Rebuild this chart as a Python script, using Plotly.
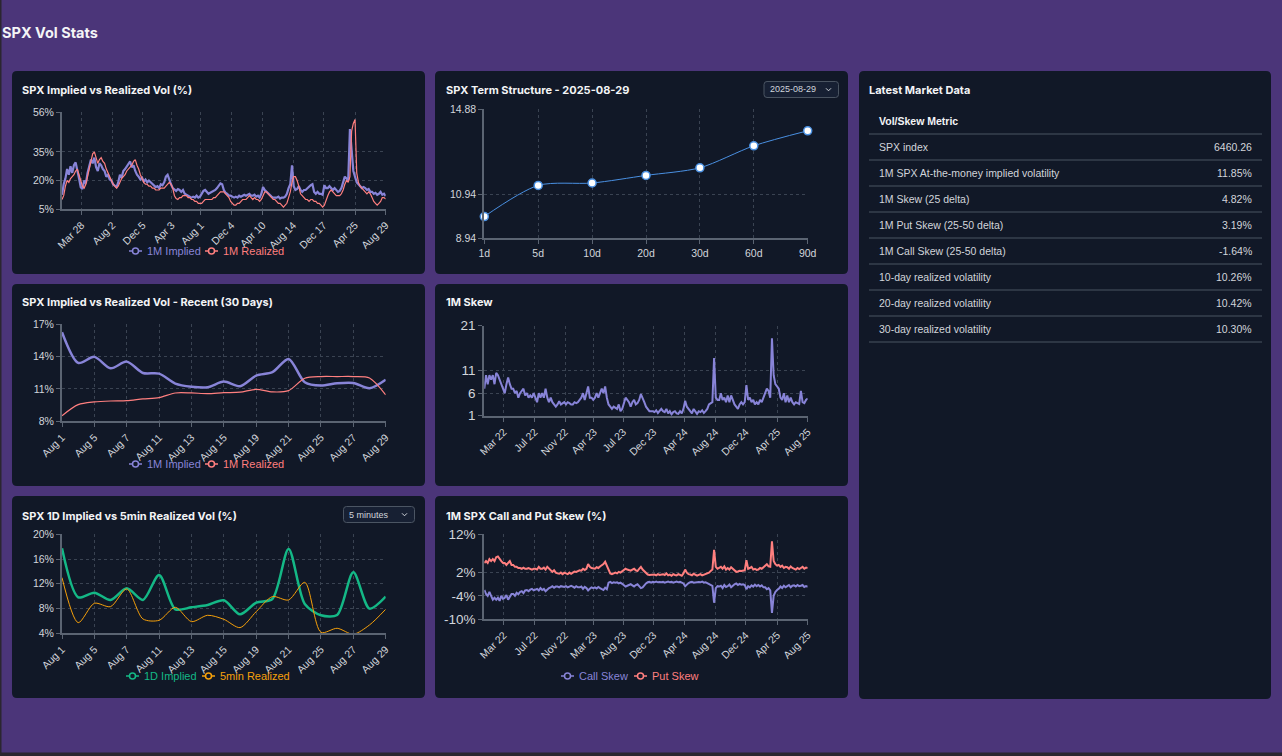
import plotly.graph_objects as go
import pandas as pd

W, H = 1282, 756

# ------------------------------------------------------------------ data
END_DATE = "2025-08-29"

# weekly (Friday) samples, Jan 2022 -> Aug 2025
implied_1m = (
    [12.5, 18, 21, 26] + [23, 27.5, 24, 28] + [29.5, 26, 21, 16.5] + [15.5, 20, 18.5, 24, 28]
    + [31, 29, 32, 27] + [25, 29, 28, 26] + [25, 22, 23, 20.5, 20] + [18, 17, 16.5, 19]
    + [23, 21.5, 25, 26, 27.5] + [29, 30, 27, 28] + [25, 23, 22, 20.5] + [21.5, 19.5, 20.5, 19, 20]
    + [19, 18, 17, 16.5] + [17, 16, 18, 17.5] + [19, 22, 23, 20, 18] + [16, 15, 14.5, 15.5]
    + [15, 14, 15, 13] + [12.5, 12, 11.5, 11, 11.5] + [11, 12, 11, 11.5] + [13, 14.5, 15, 14]
    + [13, 13.5, 14, 14.5, 15] + [16, 17.5, 18.5, 18] + [15, 13.5, 13, 12] + [12, 11.5, 11, 11.5, 11]
    + [12, 11.5, 12, 12.5] + [12, 12.5, 13, 12] + [12, 12.5, 11.5, 12, 11] + [13, 16.5, 15, 14]
    + [13, 12, 11.5, 11, 11] + [11, 11.5, 10.5, 11] + [11, 11.5, 13, 16] + [18, 28, 17, 15, 15.5]
    + [17, 15, 14, 15] + [15, 16, 17, 17.5] + [18, 14, 13, 14, 13] + [13, 12.5, 17.5, 16]
    + [16, 17, 16, 15, 16] + [15, 14, 14.5, 16] + [19, 22, 21, 20] + [47, 33, 25, 22]
    + [19, 18, 17, 16, 16.5] + [16, 15, 15.5, 14] + [14, 13, 13.5, 12.5] + [13, 14, 12.5, 13, 11.85]
)
realized_1m = (
    [10, 12, 17, 20] + [19, 21, 22, 23] + [25, 26, 23, 20] + [17, 16, 18, 22, 26]
    + [30, 34, 35, 32] + [29, 31, 32, 30] + [29, 26, 24, 22, 20] + [18, 17, 16, 17]
    + [19, 21, 22, 23, 25] + [26, 27, 28, 30] + [31, 28, 26, 23] + [21, 19, 18, 18, 17]
    + [17, 16, 16, 15] + [15, 15, 16, 16] + [16, 17, 18, 19, 18] + [16, 12, 10.5, 10]
    + [11, 11, 12, 12] + [12, 11, 11, 10, 10] + [9, 9, 8, 8] + [8, 9, 10, 10]
    + [10, 10, 10, 11, 11] + [12, 13, 14, 14] + [14, 13, 12, 11] + [9, 8, 7, 7, 8]
    + [8, 9, 10, 10] + [10, 11, 12, 11] + [10, 11, 10, 10, 9] + [10, 12, 14, 14]
    + [13, 12, 11, 10, 10] + [9, 8, 8, 7] + [6, 7, 8, 11] + [14, 19, 22, 22, 20]
    + [17, 13, 12, 11] + [10, 10, 9, 10] + [10, 9, 9, 8, 8] + [7, 6, 7, 10]
    + [12, 14, 15, 14, 13] + [12, 12, 12, 13] + [15, 18, 20, 19] + [22, 46, 50, 52]
    + [24, 19, 17, 16, 15] + [14, 13, 14, 13] + [11, 9, 8, 7] + [8, 9, 11, 11, 10.3]
)
skew_1m = (
    [7, 10, 8, 10] + [9, 10, 8, 10.5] + [10, 9, 8, 7] + [6, 8, 9.5, 8, 7]
    + [7, 6, 6.5, 5] + [6, 6.5, 7, 5.5] + [6, 5, 5.5, 5, 6] + [5, 4, 6, 5]
    + [6, 5, 7, 5, 4] + [5, 4, 3.5, 3] + [3.5, 4.2, 3.5, 3.8] + [4, 3.5, 4, 3.8, 3.5]
    + [3.5, 4, 3.8, 4] + [4.5, 5, 6, 4.5] + [6, 7.5, 5, 5, 4.5] + [5, 6, 5, 6]
    + [7, 6, 7.5, 5] + [3.5, 3, 2.5, 3, 2.8] + [2.5, 3.5, 2, 2.5] + [4, 5, 4.5, 4]
    + [3, 4, 4.5, 3.5, 3.8] + [4.5, 5.8, 5, 4] + [3, 2.5, 2, 2] + [2, 1.8, 2.2, 1.6, 2]
    + [2.5, 2, 1.8, 2.5] + [1.5, 2, 1.3, 1.8] + [2, 1.5, 1.4, 2, 1.5] + [2.5, 4.3, 3, 2.5]
    + [2, 1.5, 2.5, 1.8, 1.4] + [2, 1.8, 2.2, 1.6] + [2, 2.5, 3.5, 3.8] + [4, 13.8, 5, 4.5, 4.5]
    + [6, 4.5, 5, 4] + [5.5, 4, 5.5, 4.5] + [3.5, 3, 2.5, 3.5, 4] + [3.5, 4, 7.8, 4.5]
    + [5, 4, 4.5, 3.5, 4] + [3.5, 4.5, 4, 5] + [6, 7, 6.5, 5] + [18.2, 10, 8, 7.5]
    + [7, 5, 4.5, 6, 4] + [5.5, 4, 5, 4] + [3.5, 4, 3.8, 3.6] + [6.5, 4, 3.8, 4.5, 4.82]
)
put_skew = (
    [4.5, 5, 4.5, 5.5] + [5, 5.5, 5, 6] + [6.2, 5.5, 5, 4.5] + [4.5, 4, 4.5, 5, 4]
    + [4, 3.5, 3.5, 3.2] + [3.2, 3, 3.3, 3] + [3, 3.2, 3, 2.8, 3] + [3, 2.8, 3.5, 3]
    + [3, 3.3, 2.8, 3.5, 3] + [2.5, 2.2, 2.6, 2] + [1.8, 1.7, 2, 1.6] + [2, 1.8, 1.6, 2, 1.7]
    + [2, 2.3, 2.2, 2.5] + [2.6, 2.5, 3, 2.7] + [3, 4.2, 3.5, 3.2, 3] + [3, 3.4, 3.2, 3.6]
    + [3.8, 4.2, 4.8, 3.8] + [2.5, 1.8, 1.6, 1.8, 2] + [1.8, 2.2, 2, 2.3] + [2.5, 3, 2.8, 2.6]
    + [2.5, 2.8, 3, 2.6, 2.4] + [3, 3.5, 2.8, 2.4] + [1.8, 1.5, 1.4, 1.5] + [1.4, 1.5, 1.3, 1.6, 1.4]
    + [1.5, 1.6, 1.4, 1.8] + [1.3, 1.5, 1.2, 1.6] + [1.4, 1.3, 1.6, 1.4, 1.2] + [1.8, 2.8, 2, 1.6]
    + [1.5, 1.3, 1.7, 1.4, 1.2] + [1.4, 1.6, 1.3, 1.5] + [1.5, 1.8, 2, 2.4] + [2.8, 7.9, 3.5, 3, 3.2]
    + [3.5, 3, 3.6, 2.8] + [3.2, 2.8, 3.4, 3] + [2.5, 2.2, 2.3, 2.5, 2.4] + [2.5, 2.6, 5.2, 3]
    + [3.2, 3.5, 2.8, 3, 2.7] + [2.8, 3.2, 3, 3.4] + [3.8, 4.2, 3.6, 3.5] + [10.1, 5, 4.2, 3.8]
    + [4, 3.5, 3.8, 3.2, 3.5] + [3.4, 3, 3.6, 3.2] + [3, 2.8, 3.2, 2.9] + [3.2, 3.5, 3, 3.3, 3.19]
)
call_skew = (
    [-2.5, -3.5, -4, -3] + [-4, -5, -4.5, -5] + [-4.5, -5.3, -4, -4.8] + [-4.5, -3.8, -5, -4.2, -3.5]
    + [-3.5, -4, -3.2, -3.6] + [-3, -2.8, -3.3, -2.6] + [-2.5, -2.8, -2.4, -2.2, -2.6] + [-2.4, -2.2, -2.6, -2]
    + [-2.5, -2.2, -2.8, -2.3, -2] + [-1.8, -1.5, -1.9, -1.6] + [-1.6, -1.8, -1.5, -1.7] + [-1.7, -1.5, -1.8, -1.6, -1.4]
    + [-1.6, -1.9, -1.5, -1.8] + [-1.8, -1.6, -2.2, -1.7] + [-2, -2.6, -2.2, -1.8, -2] + [-1.8, -2.1, -1.7, -2]
    + [-2.2, -2.5, -1.9, -2.3] + [-0.6, -0.4, -0.7, -0.5, -0.6] + [-0.5, -0.8, -0.6, -0.9] + [-1.2, -1.6, -1.4, -1.1]
    + [-1, -1.3, -1.6, -1.2, -1] + [-1.5, -2, -1.8, -1.2] + [-0.8, -0.5, -0.4, -0.6] + [-0.4, -0.5, -0.3, -0.5, -0.4]
    + [-0.5, -0.4, -0.6, -0.4] + [-0.3, -0.5, -0.4, -0.6] + [-0.4, -0.3, -0.5, -0.4, -0.6] + [-0.8, -1.5, -1, -0.7]
    + [-0.5, -0.4, -0.6, -0.5, -0.4] + [-0.4, -0.5, -0.3, -0.6] + [-0.5, -0.7, -0.9, -1.2] + [-1.4, -5.8, -2, -1.5, -1.6]
    + [-1.4, -2, -1.2, -1.7] + [-1.5, -1.1, -1.8, -1.3] + [-1, -0.8, -1.2, -0.9, -1.1] + [-1, -1.2, -2.3, -1.5]
    + [-1.8, -1.3, -1.6, -1.1, -1.5] + [-1.2, -1.6, -1.3, -1.8] + [-1.8, -2.3, -2, -2.6] + [-8.4, -4, -3, -2.5]
    + [-2.2, -1.6, -2, -1.4, -1.8] + [-1.5, -1.2, -1.8, -1.4] + [-1.3, -1.6, -1.2, -1.5] + [-1.4, -1.2, -1.7, -1.5, -1.64]
)

long_tick_dates = ["2022-03-28", "2022-08-02", "2022-12-05", "2023-04-03", "2023-08-01", "2023-12-04",
                   "2024-04-10", "2024-08-14", "2024-12-17", "2025-04-25", "2025-08-29"]
vol_tick_text = ["Mar 28", "Aug 2", "Dec 5", "Apr 3", "Aug 1", "Dec 4", "Apr 10", "Aug 14", "Dec 17", "Apr 25", "Aug 29"]
skew_tick_text = ["Mar 22", "Jul 22", "Nov 22", "Apr 23", "Jul 23", "Dec 23", "Apr 24", "Aug 24", "Dec 24", "Apr 25", "Aug 25"]
cp_tick_text = ["Mar 22", "Jul 22", "Nov 22", "Mar 23", "Aug 23", "Dec 23", "Apr 24", "Aug 24", "Dec 24", "Apr 25", "Aug 25"]

vol_yticks = [5, 20, 35, 56]
term_yticks = [8.94, 10.94, 14.88]
recent_yticks = [8, 11, 14, 17]
skew_yticks = [1, 6, 11, 21]
intraday_yticks = [4, 8, 12, 16, 20]
cp_yticks = [-10, -4, 2, 12]

term_labels = ["1d", "5d", "10d", "20d", "30d", "60d", "90d"]
term_values = [9.94, 11.37, 11.48, 11.83, 12.18, 13.19, 13.88]

recent_days = ["Aug 1", "Aug 4", "Aug 5", "Aug 6", "Aug 7", "Aug 8", "Aug 11", "Aug 12", "Aug 13", "Aug 14",
               "Aug 15", "Aug 18", "Aug 19", "Aug 20", "Aug 21", "Aug 22", "Aug 25", "Aug 26", "Aug 27",
               "Aug 28", "Aug 29"]
recent_implied = [16.24, 13.4, 13.96, 12.9, 13.52, 12.47, 12.41, 11.49, 11.2, 11.15, 11.67, 11.24,
                  12.23, 12.54, 13.77, 11.61, 11.3, 11.52, 11.55, 11.06, 11.85]
recent_realized = [8.52, 9.54, 9.79, 9.88, 9.91, 10.07, 10.19, 10.62, 10.62, 10.56, 10.65, 10.69,
                   10.96, 10.72, 10.84, 11.98, 12.14, 12.14, 12.14, 12.01, 10.45]
implied_1d = [17.74, 9.82, 10.57, 9.39, 11.27, 9.39, 13.43, 7.88, 8.2, 8.58, 9.33, 7.07, 8.96, 9.55,
              17.63, 8.74, 6.91, 6.96, 13.86, 7.99, 9.93]
realized_5min = [13.0, 5.72, 8.85, 8.31, 11.17, 6.32, 6.1, 8.2, 5.89, 6.91, 6.26, 4.92, 7.5, 9.93,
                 9.39, 12.24, 4.16, 4.81, 3.85, 5.35, 7.88]

table_metrics = ["SPX index", "1M SPX At-the-money implied volatility", "1M Skew (25 delta)",
                 "1M Put Skew (25-50 delta)", "1M Call Skew (25-50 delta)", "10-day realized volatility",
                 "20-day realized volatility", "30-day realized volatility"]
table_values = ["6460.26", "11.85%", "4.82%", "3.19%", "-1.64%", "10.26%", "10.42%", "10.30%"]

# ------------------------------------------------------------------ style
PAGE = "#4b3579"
PANEL = "#111827"
PURPLE = "#8884d8"
RED = "#ff7f7f"
GREEN = "#14b886"
ORANGE = "#f5a00b"
BLUE = "#4a90e2"
GRID = "#3a4352"
AXIS = "#5b6472"
TICK = "#d1d5db"
TFONT = "Inter"
SFONT = "Liberation Sans"

weeks = pd.date_range(end=END_DATE, periods=len(implied_1m), freq="W-FRI")
skew_weeks = pd.date_range(end=END_DATE, periods=len(skew_1m), freq="W-FRI")
cp_weeks = pd.date_range(end=END_DATE, periods=len(put_skew), freq="W-FRI")


def P(x, y):
    return x / W, 1 - y / H


def xd(a, b):
    return [a / W, b / W]


def yd(top, bot):
    return [1 - bot / H, 1 - top / H]


def pct(vals):
    return [f"{v}%" for v in vals]


fig = go.Figure()

fig.add_trace(go.Scatter(x=weeks, y=implied_1m, mode="lines", line=dict(color=PURPLE, width=2.2),
                         xaxis="x", yaxis="y", showlegend=False))
fig.add_trace(go.Scatter(x=weeks, y=realized_1m, mode="lines", line=dict(color=RED, width=1.2),
                         xaxis="x", yaxis="y", showlegend=False))

fig.add_trace(go.Scatter(x=term_labels, y=term_values, mode="lines+markers",
                         line=dict(color=BLUE, width=1, shape="spline", smoothing=0.8),
                         marker=dict(size=8, color="white", line=dict(color=BLUE, width=1.5)),
                         cliponaxis=False, xaxis="x2", yaxis="y2", showlegend=False))

fig.add_trace(go.Scatter(x=recent_days, y=recent_implied, mode="lines",
                         line=dict(color=PURPLE, width=2.5, shape="spline", smoothing=0.8),
                         xaxis="x3", yaxis="y3", showlegend=False))
fig.add_trace(go.Scatter(x=recent_days, y=recent_realized, mode="lines",
                         line=dict(color=RED, width=1.2, shape="spline", smoothing=0.8),
                         xaxis="x3", yaxis="y3", showlegend=False))

fig.add_trace(go.Scatter(x=skew_weeks, y=skew_1m, mode="lines", line=dict(color=PURPLE, width=2),
                         xaxis="x4", yaxis="y4", showlegend=False))

fig.add_trace(go.Scatter(x=recent_days, y=implied_1d, mode="lines",
                         line=dict(color=GREEN, width=2.5, shape="spline", smoothing=0.8),
                         xaxis="x5", yaxis="y5", showlegend=False))
fig.add_trace(go.Scatter(x=recent_days, y=realized_5min, mode="lines",
                         line=dict(color=ORANGE, width=1, shape="spline", smoothing=0.8),
                         xaxis="x5", yaxis="y5", showlegend=False))

fig.add_trace(go.Scatter(x=cp_weeks, y=call_skew, mode="lines", line=dict(color=PURPLE, width=2),
                         xaxis="x6", yaxis="y6", showlegend=False))
fig.add_trace(go.Scatter(x=cp_weeks, y=put_skew, mode="lines", line=dict(color=RED, width=2),
                         xaxis="x6", yaxis="y6", showlegend=False))


def axis(domain, anchor, **kw):
    d = dict(domain=domain, anchor=anchor, showline=True, linecolor=AXIS, linewidth=2,
             showgrid=True, gridcolor=GRID, griddash="3px,3px", gridwidth=1,
             ticks="outside", tickcolor=AXIS, ticklen=4, tickwidth=1, automargin=False,
             tickfont=dict(family=SFONT, size=10.5, color=TICK), zeroline=False, fixedrange=True)
    d.update(kw)
    return d


L1, R1 = 62, 385.7
L2, R2 = 484.3, 807.7

layout = dict(
    width=W, height=H, margin=dict(l=0, r=0, t=0, b=0, pad=0, autoexpand=False),
    paper_bgcolor=PAGE, plot_bgcolor="rgba(0,0,0,0)", showlegend=False,
    xaxis=axis(xd(L1, R1), "y", type="date", range=[weeks[0], weeks[-1]], tickmode="array",
               tickvals=long_tick_dates, ticktext=vol_tick_text, tickangle=-45),
    yaxis=axis(yd(112, 209), "x", range=[5, 56], tickmode="array", tickvals=vol_yticks,
               ticktext=pct(vol_yticks)),
    xaxis2=axis(xd(L2, R2), "y2", type="category", range=[0, 6]),
    yaxis2=axis(yd(109, 238.3), "x2", range=[8.94, 14.88], tickmode="array",
                tickvals=term_yticks, ticktext=[f"{v:.2f}" for v in term_yticks]),
    xaxis3=axis(xd(L1, R1), "y3", type="category", range=[0, 20], tickmode="array",
                tickvals=recent_days[::2], ticktext=recent_days[::2], tickangle=-45),
    yaxis3=axis(yd(324, 421.3), "x3", range=[8, 17], tickmode="array", tickvals=recent_yticks,
                ticktext=pct(recent_yticks)),
    xaxis4=axis(xd(L2, R2), "y4", type="date", range=[skew_weeks[0], skew_weeks[-1]], tickmode="array",
                tickvals=long_tick_dates, ticktext=skew_tick_text, tickangle=-45),
    yaxis4=axis(yd(325.7, 415.7), "x4", range=[1, 21], tickmode="array", tickvals=skew_yticks,
                ticktext=[str(v) for v in skew_yticks],
                tickfont=dict(family=SFONT, size=13.5, color=TICK)),
    xaxis5=axis(xd(L1, R1), "y5", type="category", range=[0, 20], tickmode="array",
                tickvals=recent_days[::2], ticktext=recent_days[::2], tickangle=-45),
    yaxis5=axis(yd(534.3, 633.3), "x5", range=[4, 20], tickmode="array", tickvals=intraday_yticks,
                ticktext=pct(intraday_yticks)),
    xaxis6=axis(xd(L2, R2), "y6", type="date", range=[cp_weeks[0], cp_weeks[-1]], tickmode="array",
                tickvals=long_tick_dates, ticktext=cp_tick_text, tickangle=-45),
    yaxis6=axis(yd(534, 619), "x6", range=[-10, 12], tickmode="array", tickvals=cp_yticks,
                ticktext=pct(cp_yticks), tickfont=dict(family=SFONT, size=13.5, color=TICK)),
)
fig.update_layout(**layout)

shapes = []
annotations = []


def rrect(x0, y0, x1, y1, r, fill, line=None, lw=0):
    pts = [(x0 + r, y0), (x1 - r, y0), (x1, y0), (x1, y0 + r), (x1, y1 - r), (x1, y1), (x1 - r, y1),
           (x0 + r, y1), (x0, y1), (x0, y1 - r), (x0, y0 + r), (x0, y0), (x0 + r, y0)]
    c = ["%.6f,%.6f" % P(*p) for p in pts]
    path = (f"M {c[0]} L {c[1]} Q {c[2]} {c[3]} L {c[4]} Q {c[5]} {c[6]} L {c[7]} "
            f"Q {c[8]} {c[9]} L {c[10]} Q {c[11]} {c[12]} Z")
    shapes.append(dict(type="path", xref="paper", yref="paper", path=path, fillcolor=fill,
                       line=dict(color=line or fill, width=lw), layer="below"))


def text(x, y, s, size=11, color="#f3f4f6", family=SFONT, anchor="left"):
    shift = -2 if anchor == "left" else 2
    xx, yy = P(x + shift, y)
    annotations.append(dict(x=xx, y=yy, xref="paper", yref="paper", text=s, showarrow=False,
                            xanchor=anchor, yanchor="middle",
                            font=dict(size=size, color=color, family=family)))


def hline(x0, x1, y, color, width=1):
    a, b = P(x0, y)
    c, _ = P(x1, y)
    shapes.append(dict(type="line", xref="paper", yref="paper", x0=a, x1=c, y0=b, y1=b,
                       line=dict(color=color, width=width), layer="above"))


def legend_item(x0, y, color, label):
    a, b = P(x0, y)
    c, _ = P(x0 + 13, y)
    shapes.append(dict(type="line", xref="paper", yref="paper", x0=a, x1=c, y0=b, y1=b,
                       line=dict(color=color, width=1.5), layer="above"))
    cx0, cy0 = P(x0 + 3.5, y - 3)
    cx1, cy1 = P(x0 + 9.5, y + 3)
    shapes.append(dict(type="circle", xref="paper", yref="paper", x0=cx0, x1=cx1, y0=cy1, y1=cy0,
                       fillcolor=PANEL, line=dict(color=color, width=1.5), layer="above"))
    text(x0 + 18, y, label, size=11, color=color)


def dropdown(x0, y0, x1, y1, label):
    rrect(x0, y0, x1, y1, 3, "#172033", line="#4b5563", lw=1)
    text(x0 + 6, (y0 + y1) / 2, label, size=9, color=TICK)
    cx = x1 - 10
    cy = (y0 + y1) / 2
    p = ["%.6f,%.6f" % P(*q) for q in [(cx - 2.5, cy - 1.2), (cx, cy + 1.3), (cx + 2.5, cy - 1.2)]]
    shapes.append(dict(type="path", xref="paper", yref="paper", path=f"M {p[0]} L {p[1]} L {p[2]}",
                       line=dict(color=TICK, width=1), layer="above"))


# page edges
shapes.append(dict(type="rect", xref="paper", yref="paper", x0=0, x1=1, y0=0, y1=3.5 / H,
                   fillcolor="#2b2630", line=dict(width=0), layer="below"))
shapes.append(dict(type="rect", xref="paper", yref="paper", x0=0, x1=1.5 / W, y0=0, y1=1,
                   fillcolor="#2b2630", line=dict(width=0), layer="below"))

# panels
rrect(12, 71, 425, 274, 5, PANEL)
rrect(435, 71, 848, 274, 5, PANEL)
rrect(859, 71, 1271, 699, 5, PANEL)
rrect(12, 284, 425, 486, 5, PANEL)
rrect(435, 284, 848, 486, 5, PANEL)
rrect(12, 496, 425, 698, 5, PANEL)
rrect(435, 496, 848, 698, 5, PANEL)

# titles
text(2, 32, "<b>SPX Vol Stats</b>", size=14.5, color="#f3f4f6", family=TFONT)
text(22, 90, "<b>SPX Implied vs Realized Vol (%)</b>", size=11, family=TFONT)
text(445.5, 90, "<b>SPX Term Structure - 2025-08-29</b>", size=11, family=TFONT)
text(22, 302, "<b>SPX Implied vs Realized Vol - Recent (30 Days)</b>", size=11, family=TFONT)
text(445.5, 302, "<b>1M Skew</b>", size=11, family=TFONT)
text(22, 515.5, "<b>SPX 1D Implied vs 5min Realized Vol (%)</b>", size=11, family=TFONT)
text(445.5, 515.5, "<b>1M SPX Call and Put Skew (%)</b>", size=11, family=TFONT)
text(869, 90, "<b>Latest Market Data</b>", size=11, family=TFONT)

dropdown(764, 81.5, 838.5, 97.5, "2025-08-29")
dropdown(343.5, 506.5, 414.5, 522.5, "5 minutes")

# legends
legend_item(129, 251, PURPLE, "1M Implied")
legend_item(205, 251, RED, "1M Realized")
legend_item(129, 464, PURPLE, "1M Implied")
legend_item(205, 464, RED, "1M Realized")
legend_item(126, 676, GREEN, "1D Implied")
legend_item(202, 676, ORANGE, "5min Realized")
legend_item(561, 676, PURPLE, "Call Skew")
legend_item(634, 676, RED, "Put Skew")

# table
text(879, 121, "<b>Vol/Skew Metric</b>", size=10.5, color="#f3f4f6")
hline(869, 1262, 134, "#4b5563")
for i, (m, v) in enumerate(zip(table_metrics, table_values)):
    yc = 147.3 + 26 * i
    text(879, yc, m, size=10.5, color=TICK)
    text(1252, yc, v, size=10.5, color=TICK, anchor="right")
    hline(869, 1262, 160 + 26 * i, "#4b5563")

fig.update_layout(shapes=shapes, annotations=annotations)

fig.write_html("out.html", config={"displayModeBar": False},
               post_script="document.body.style.margin='0';")
